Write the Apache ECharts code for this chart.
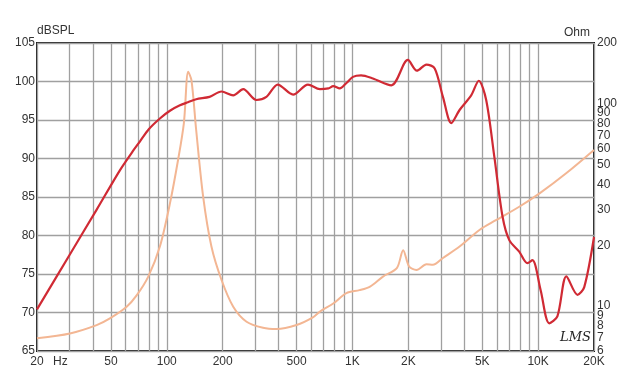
<!DOCTYPE html>
<html>
<head>
<meta charset="utf-8">
<script src="https://cdn.jsdelivr.net/npm/echarts@6/dist/echarts.min.js"></script>
<style>
  html, body { margin: 0; padding: 0; background: #fff; }
  #chart { width: 630px; height: 381px; }
</style>
</head>
<body>
<div id="chart"></div>
<script>
// Frequency response (dB SPL)
const splFreq = [20, 30, 42, 56, 65, 71.6, 80, 91.8, 104, 117.7, 130, 144, 170, 197, 228, 258, 304, 344, 396, 479, 576, 668, 742, 788, 854, 928, 1006, 1113, 1289, 1620, 1988, 2224, 2504, 2774, 3072, 3408, 3776, 4360, 4792, 5252, 5812, 6440, 6994, 7912, 8754, 9320, 10320, 11480, 12700, 14200, 16300, 17720, 20000];
const splDb   = [70.4, 77.5, 83.4, 88.5, 90.8, 92.2, 93.8, 95.2, 96.2, 96.9, 97.3, 97.7, 98.0, 98.7, 98.2, 99.0, 97.6, 98.0, 99.6, 98.3, 99.6, 99.0, 99.1, 99.4, 99.1, 99.8, 100.6, 100.8, 100.4, 99.5, 102.8, 101.4, 102.2, 101.7, 98.0, 94.6, 96.3, 98.2, 100.1, 97.6, 90.2, 82.4, 79.4, 77.9, 76.4, 76.8, 72.9, 68.6, 69.5, 74.7, 72.3, 73.3, 79.8];

// Impedance (Ohm)
const impFreq = [20, 30.1, 41.9, 49.4, 60.8, 68.8, 79.5, 91.8, 104, 115, 123.6, 130.4, 135.8, 144, 157, 174, 197, 228, 269, 330, 390, 500, 612, 668, 788, 928, 1092, 1244, 1460, 1734, 1876, 2020, 2212, 2504, 2710, 3072, 3776, 4830, 5928, 7912, 10180, 14160, 20000];
const impOhm  = [6.93, 7.33, 8.06, 8.7, 9.93, 11.3, 14.0, 19.7, 32.2, 52.8, 80.2, 144, 131, 74.3, 34.8, 19.7, 13.5, 9.93, 8.37, 7.81, 7.70, 8.06, 8.8, 9.4, 10.3, 11.6, 12.0, 12.5, 14.0, 15.4, 18.9, 15.7, 15.1, 16.1, 16.0, 17.3, 19.7, 23.8, 26.6, 31.0, 36.1, 45.4, 59.2];

// Axis ticks
const freqGrid   = [20, 30, 40, 50, 60, 70, 80, 90, 100, 200, 300, 400, 500, 600, 700, 800, 900, 1000, 2000, 3000, 4000, 5000, 6000, 7000, 8000, 9000, 10000, 20000];
const freqLabels = [20, 50, 100, 200, 500, 1000, 2000, 5000, 10000, 20000];
const ohmLabels  = [6, 7, 8, 9, 10, 20, 30, 40, 50, 60, 70, 80, 90, 100, 200];

const FONT = 'Liberation Sans, Arial, sans-serif';
const chart = echarts.init(document.getElementById('chart'), null, { renderer: 'canvas' });

function zip(a, b) { return a.map((v, i) => [v, b[i]]); }

chart.setOption({
  animation: false,
  backgroundColor: '#ffffff',
  grid: { left: 37, right: 36, top: 43, bottom: 30, show: true, borderColor: '#1e1e1e', borderWidth: 2, backgroundColor: 'transparent' },
  xAxis: {
    type: 'log', logBase: 10, min: 20, max: 20000,
    axisLine: { show: false },
    axisTick: { show: false, customValues: freqGrid },
    splitLine: { show: true, lineStyle: { color: '#a0a0a0', width: 1.3 } },
    axisLabel: {
      customValues: freqLabels,
      color: '#333', fontFamily: FONT, fontSize: 12, margin: 5,
      formatter: v => v >= 1000 ? (v / 1000) + 'K' : String(v)
    }
  },
  yAxis: [
    {
      type: 'value', min: 65, max: 105, interval: 5,
      name: 'dBSPL', nameLocation: 'end', nameGap: 4,
      nameTextStyle: { color: '#333', fontFamily: FONT, fontSize: 12, align: 'left' },
      axisLine: { show: false }, axisTick: { show: false },
      splitLine: { show: true, lineStyle: { color: '#a0a0a0', width: 1.3 } },
      axisLabel: { color: '#333', fontFamily: FONT, fontSize: 12, margin: 2 }
    },
    {
      type: 'log', logBase: 10, min: 6, max: 200, position: 'right',
      name: 'Ohm', nameLocation: 'end', nameGap: 4,
      nameTextStyle: { color: '#333', fontFamily: FONT, fontSize: 12, align: 'right', padding: [0, 4, 0, 0] },
      axisLine: { show: false }, axisTick: { show: false, customValues: ohmLabels },
      splitLine: { show: false },
      axisLabel: { customValues: ohmLabels, color: '#333', fontFamily: FONT, fontSize: 12, margin: 3, hideOverlap: false }
    }
  ],
  graphic: [
    { type: 'text', left: 53, top: 356, style: { text: 'Hz', fill: '#333', font: '12px ' + FONT } },
    { type: 'text', left: 560, top: 331, style: { text: 'LMS', fill: '#222', font: 'italic 13px DejaVu Serif, serif' } }
  ],
  series: [
    {
      type: 'line', name: 'Impedance', yAxisIndex: 1, data: zip(impFreq, impOhm),
      showSymbol: false, smooth: 0.3, z: 2,
      lineStyle: { color: '#f3b693', width: 2 }
    },
    {
      type: 'line', name: 'SPL', yAxisIndex: 0, data: zip(splFreq, splDb),
      showSymbol: false, smooth: 0.3, z: 3,
      lineStyle: { color: '#d02a34', width: 2.2 }
    }
  ]
});
</script>
</body>
</html>
